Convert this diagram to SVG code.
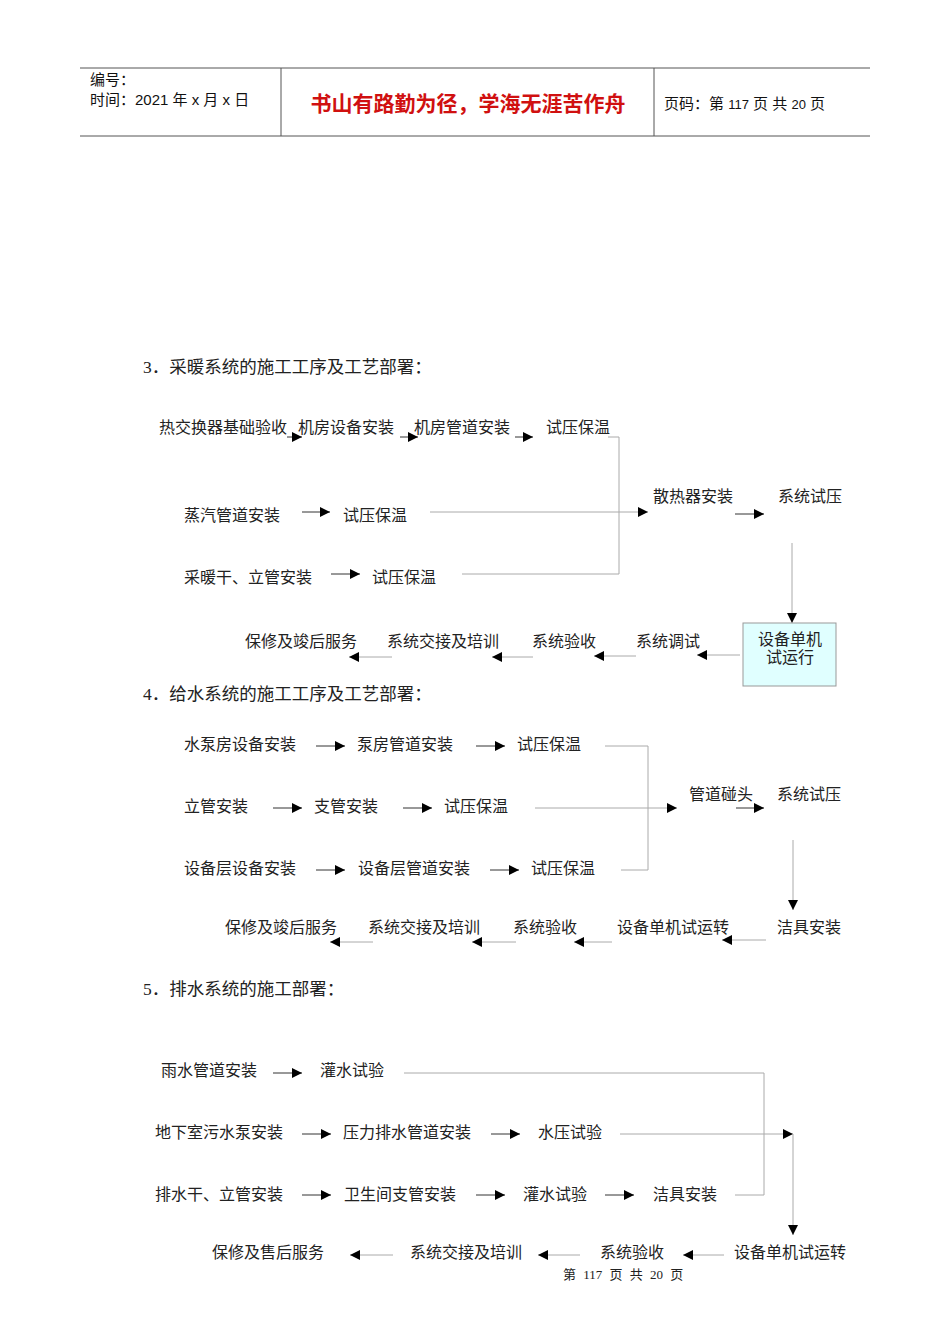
<svg xmlns="http://www.w3.org/2000/svg" width="950" height="1344" viewBox="0 0 950 1344">
<style>
text{font-family:"Liberation Serif","Noto Sans CJK SC",serif;font-size:16px;fill:#222}
.h{font-family:"Liberation Sans","Noto Sans CJK SC",sans-serif;font-size:15px;fill:#111}
.t{font-size:17.5px}
.a{stroke:#333;stroke-width:1;fill:none;marker-end:url(#ar)}
.g{stroke:#aaa;stroke-width:1;fill:none}
.ga{stroke:#aaa;stroke-width:1;fill:none;marker-end:url(#ar)}
</style>
<defs><marker id="ar" viewBox="0 0 10 10" refX="10" refY="5" markerWidth="10" markerHeight="10" markerUnits="userSpaceOnUse" orient="auto"><path d="M0,0 L10,5 L0,10 z" fill="#000"/></marker></defs>
<rect width="950" height="1344" fill="#fff"/>
<g id="header">
<line x1="80" y1="68" x2="870" y2="68" stroke="#555"/>
<line x1="80" y1="136" x2="870" y2="136" stroke="#555"/>
<line x1="281" y1="68" x2="281" y2="136" stroke="#555"/>
<line x1="654" y1="68" x2="654" y2="136" stroke="#555"/>
<text class="h" x="90" y="85">编号：</text>
<text class="h" x="90" y="105">时间：2021 年 x 月 x 日</text>
<text class="h" x="468" y="111" text-anchor="middle" style="font-size:21px;fill:#d01010;font-weight:bold">书山有路勤为径，学海无涯苦作舟</text>
<text class="h" x="664" y="109">页码：第 <tspan style="font-size:13px">117</tspan> 页  共 <tspan style="font-size:13px">20</tspan> 页</text>
</g>
<text class="t" x="143" y="373">3．采暖系统的施工工序及工艺部署：</text>
<text class="t" x="143" y="700">4．给水系统的施工工序及工艺部署：</text>
<text class="t" x="143" y="995">5．排水系统的施工部署：</text>
<g id="connectors">
<line class="a" x1="287" y1="437" x2="302" y2="437"/>
<line class="a" x1="400" y1="437" x2="418" y2="437"/>
<line class="a" x1="515" y1="437" x2="533" y2="437"/>
<polyline class="g" points="608,437 619,437 619,574 462,574"/>
<line class="a" x1="302" y1="512" x2="330" y2="512"/>
<line class="ga" x1="430" y1="512" x2="648" y2="512"/>
<line class="a" x1="331" y1="574" x2="360" y2="574"/>
<line class="a" x1="735" y1="514" x2="764" y2="514"/>
<line class="ga" x1="792" y1="543" x2="792" y2="623"/>
<line class="ga" x1="740" y1="655" x2="697" y2="655"/>
<line class="ga" x1="636" y1="656" x2="594" y2="656"/>
<line class="ga" x1="533" y1="657" x2="492" y2="657"/>
<line class="ga" x1="392" y1="657" x2="349" y2="657"/>
<line class="a" x1="316" y1="746" x2="345" y2="746"/>
<line class="a" x1="476" y1="746" x2="505" y2="746"/>
<polyline class="g" points="605,746 648,746 648,870 621,870"/>
<line class="a" x1="273" y1="808" x2="302" y2="808"/>
<line class="a" x1="403" y1="808" x2="432" y2="808"/>
<line class="ga" x1="535" y1="808" x2="677" y2="808"/>
<line class="a" x1="736" y1="808" x2="764" y2="808"/>
<line class="a" x1="316" y1="870" x2="345" y2="870"/>
<line class="a" x1="490" y1="870" x2="519" y2="870"/>
<line class="ga" x1="793" y1="840" x2="793" y2="910"/>
<line class="ga" x1="766" y1="940" x2="722" y2="940"/>
<line class="ga" x1="612" y1="942" x2="574" y2="942"/>
<line class="ga" x1="516" y1="942" x2="472" y2="942"/>
<line class="ga" x1="373" y1="942" x2="330" y2="942"/>
<line class="a" x1="273" y1="1073" x2="302" y2="1073"/>
<polyline class="g" points="404,1073 764,1073 764,1195 735,1195"/>
<line class="a" x1="302" y1="1134" x2="331" y2="1134"/>
<line class="a" x1="491" y1="1134" x2="520" y2="1134"/>
<line class="ga" x1="620" y1="1134" x2="793" y2="1134"/>
<line class="ga" x1="793" y1="1134" x2="793" y2="1235"/>
<line class="a" x1="302" y1="1195" x2="331" y2="1195"/>
<line class="a" x1="476" y1="1195" x2="505" y2="1195"/>
<line class="a" x1="605" y1="1195" x2="634" y2="1195"/>
<line class="ga" x1="724" y1="1255" x2="683" y2="1255"/>
<line class="ga" x1="580" y1="1255" x2="538" y2="1255"/>
<line class="ga" x1="393" y1="1255" x2="350" y2="1255"/>
</g>
<g id="s3">
<g id="n3_1"><text x="159" y="433">热交换器基础验收</text></g>
<g id="n3_2"><text x="298" y="433">机房设备安装</text></g>
<g id="n3_3"><text x="414" y="433">机房管道安装</text></g>
<g id="n3_4"><text x="546" y="433">试压保温</text></g>
<g id="n3_5"><text x="184" y="521">蒸汽管道安装</text></g>
<g id="n3_6"><text x="343" y="521">试压保温</text></g>
<g id="n3_7"><text x="653" y="502">散热器安装</text></g>
<g id="n3_8"><text x="778" y="502">系统试压</text></g>
<g id="n3_9"><text x="184" y="583">采暖干、立管安装</text></g>
<g id="n3_10"><text x="372" y="583">试压保温</text></g>
<g id="n3_11"><rect x="743" y="623" width="93" height="63" fill="#e0ffff" stroke="#999"/><text x="790" y="645" text-anchor="middle">设备单机</text><text x="790" y="663" text-anchor="middle">试运行</text></g>
<g id="n3_12"><text x="636" y="647">系统调试</text></g>
<g id="n3_13"><text x="532" y="647">系统验收</text></g>
<g id="n3_14"><text x="387" y="647">系统交接及培训</text></g>
<g id="n3_15"><text x="245" y="647">保修及竣后服务</text></g>
</g>
<g id="s4">
<g id="n4_1"><text x="184" y="750">水泵房设备安装</text></g>
<g id="n4_2"><text x="357" y="750">泵房管道安装</text></g>
<g id="n4_3"><text x="517" y="750">试压保温</text></g>
<g id="n4_4"><text x="184" y="812">立管安装</text></g>
<g id="n4_5"><text x="314" y="812">支管安装</text></g>
<g id="n4_6"><text x="444" y="812">试压保温</text></g>
<g id="n4_7"><text x="689" y="800">管道碰头</text></g>
<g id="n4_8"><text x="777" y="800">系统试压</text></g>
<g id="n4_9"><text x="184" y="874">设备层设备安装</text></g>
<g id="n4_10"><text x="358" y="874">设备层管道安装</text></g>
<g id="n4_11"><text x="531" y="874">试压保温</text></g>
<g id="n4_12"><text x="777" y="933">洁具安装</text></g>
<g id="n4_13"><text x="617" y="933">设备单机试运转</text></g>
<g id="n4_14"><text x="513" y="933">系统验收</text></g>
<g id="n4_15"><text x="368" y="933">系统交接及培训</text></g>
<g id="n4_16"><text x="225" y="933">保修及竣后服务</text></g>
</g>
<g id="s5">
<g id="n5_1"><text x="161" y="1076">雨水管道安装</text></g>
<g id="n5_2"><text x="320" y="1076">灌水试验</text></g>
<g id="n5_3"><text x="155" y="1138">地下室污水泵安装</text></g>
<g id="n5_4"><text x="343" y="1138">压力排水管道安装</text></g>
<g id="n5_5"><text x="538" y="1138">水压试验</text></g>
<g id="n5_6"><text x="155" y="1200">排水干、立管安装</text></g>
<g id="n5_7"><text x="344" y="1200">卫生间支管安装</text></g>
<g id="n5_8"><text x="523" y="1200">灌水试验</text></g>
<g id="n5_9"><text x="653" y="1200">洁具安装</text></g>
<g id="n5_10"><text x="734" y="1258">设备单机试运转</text></g>
<g id="n5_11"><text x="600" y="1258">系统验收</text></g>
<g id="n5_12"><text x="410" y="1258">系统交接及培训</text></g>
<g id="n5_13"><text x="212" y="1258">保修及售后服务</text></g>
</g>
<text x="563" y="1279" style="font-size:13px" word-spacing="4">第 117 页 共 20 页</text>
</svg>
